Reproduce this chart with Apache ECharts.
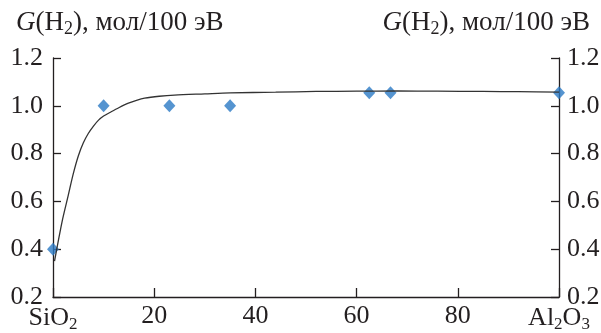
<!DOCTYPE html>
<html><head><meta charset="utf-8">
<script src="https://cdn.jsdelivr.net/npm/echarts@6/dist/echarts.min.js"></script>
<style>html,body{margin:0;padding:0;background:#fff}#c{width:601px;height:333px}</style>
</head><body><div id="c"></div>
<script>
// Data
var pointX = [0, 10, 23, 35, 62.5, 66.7, 100];
var pointY = [0.40, 1.00, 1.00, 1.00, 1.055, 1.055, 1.055];
var curveX = [0.3, 1.0, 1.5, 2.0, 3.0, 4.0, 5.0, 6.0, 7.0, 8.0, 9.0, 10.0, 11.5, 13, 14.9, 16.5, 18.1, 21, 24, 30, 35, 44, 52, 60, 68, 76, 85, 92, 100];
var curveY = [0.35, 0.43, 0.484, 0.535, 0.624, 0.715, 0.79, 0.845, 0.885, 0.915, 0.940, 0.957, 0.975, 0.992, 1.011, 1.023, 1.032, 1.040, 1.045, 1.050, 1.054, 1.057, 1.060, 1.061, 1.062, 1.061, 1.060, 1.059, 1.057];
var yTicks = ['0.2', '0.4', '0.6', '0.8', '1.0', '1.2'];
var xTickLabels = {0: 'SiO2', 20: '20', 40: '40', 60: '60', 80: '80', 100: 'Al2O3'};
var yTitle = 'G(H2), мол/100 эВ';

var FONT = 'Liberation Serif';
var FS = 26;
var COL = '#231f20';
function makeRich(fs, sfs, pad) {
  return {
    a: {fontFamily: FONT, fontSize: fs, fontWeight: 'normal', color: COL},
    i: {fontFamily: FONT, fontSize: fs, fontWeight: 'normal', fontStyle: 'italic', color: COL},
    s: {fontFamily: FONT, fontSize: sfs, fontWeight: 'normal', color: COL, padding: [pad, 0, 0, 0]}
  };
}
var richTick = makeRich(FS, 17, 13);
var richTitle = makeRich(27, 18, 13);
function richify(t) {
  var r = '{a|' + t.replace(/([A-Za-z])(\d+)/g, '$1}{s|$2}{a|') + '}';
  return r.replace(/\{a\|\}/g, '');
}
function titleRich(t) {
  var m = t.match(/^G(.*)$/);
  return '{i|G}' + richify(m[1]);
}
var chart = echarts.init(document.getElementById('c'), null, {renderer: 'canvas'});
var axisLineStyle = {color: COL, width: 1.3};
chart.setOption({
  animation: false,
  backgroundColor: '#fff',
  title: [
    {text: titleRich(yTitle), left: 11, top: 2, textStyle: {fontWeight: 'normal', rich: richTitle}},
    {text: titleRich(yTitle), right: 6, top: 2, textStyle: {fontWeight: 'normal', rich: richTitle}}
  ],
  grid: {left: 53, right: 42, top: 58, bottom: 36, containLabel: false, outerBoundsMode: 'none'},
  xAxis: {
    type: 'value', min: 0, max: 100, interval: 20,
    axisLine: {show: true, lineStyle: axisLineStyle},
    axisTick: {show: true, inside: true, length: 9, lineStyle: axisLineStyle},
    splitLine: {show: false},
    axisLabel: {
      margin: 6, hideOverlap: false,
      formatter: function (v) { return richify(xTickLabels[v] || String(v)); },
      rich: richTick
    }
  },
  yAxis: [
    {
      type: 'value', min: 0.2, max: 1.2, interval: 0.2, position: 'left',
      axisLine: {show: true, lineStyle: axisLineStyle},
      axisTick: {show: true, inside: true, length: 8, lineStyle: axisLineStyle},
      splitLine: {show: false},
      axisLabel: {margin: 10, fontFamily: FONT, fontSize: FS, color: COL,
        formatter: function (v) { return yTicks[Math.round((v - 0.2) / 0.2)]; }}
    },
    {
      type: 'value', min: 0.2, max: 1.2, interval: 0.2, position: 'right',
      axisLine: {show: true, lineStyle: axisLineStyle},
      axisTick: {show: true, inside: true, length: 8, lineStyle: axisLineStyle},
      splitLine: {show: false},
      axisLabel: {margin: 8, fontFamily: FONT, fontSize: FS, color: COL,
        formatter: function (v) { return yTicks[Math.round((v - 0.2) / 0.2)]; }}
    }
  ],
  series: [
    {
      type: 'line', smooth: 0.3, showSymbol: false, symbol: 'none', clip: false,
      data: curveX.map(function (x, k) { return [x, curveY[k]]; }),
      lineStyle: {color: '#333', width: 1.3}, z: 3
    },
    {
      type: 'scatter', symbol: 'diamond', symbolSize: [12, 13], clip: false,
      data: pointX.map(function (x, k) { return [x, pointY[k]]; }),
      itemStyle: {color: '#2b79c4'}, z: 2
    }
  ]
});
</script></body></html>
